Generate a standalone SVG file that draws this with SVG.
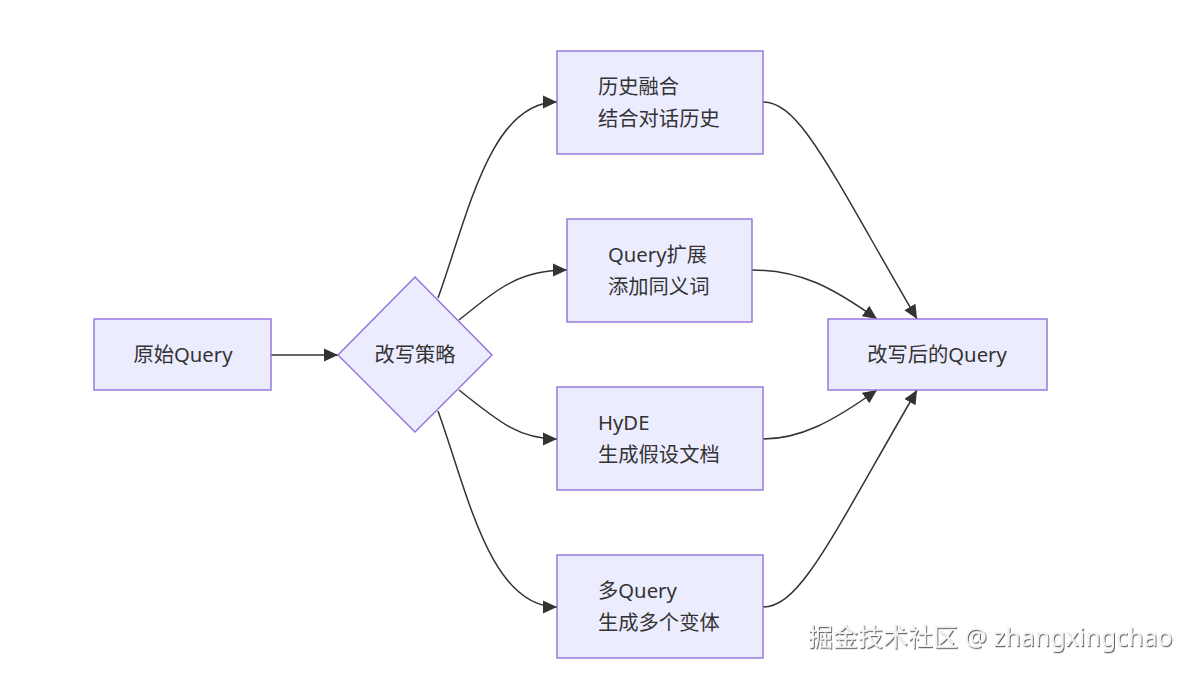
<svg xmlns="http://www.w3.org/2000/svg" width="1194" height="675" viewBox="0 0 1194 675">
<defs>
<style>
.node rect, .node polygon { fill: #ECECFF; stroke: #9370DB; stroke-width: 1.4; }
.node text { font-family: "Noto Sans", "Noto Sans CJK SC", sans-serif; font-size: 20.3px; fill: #333; }
.edge { fill: none; stroke: #333; stroke-width: 1.5; marker-end: url(#arrow); }
.wm { font-family: "Noto Sans", "Noto Sans CJK SC", sans-serif; font-size: 25px; fill: #f4f4f4; filter: url(#shadow); }
</style>
<marker id="arrow" markerUnits="userSpaceOnUse" markerWidth="14" markerHeight="14" viewBox="0 0 12 12" refX="12" refY="6" orient="auto">
<path d="M0,0.5 L12,6 L0,11.5 Z" fill="#333"/>
</marker>
<filter id="shadow" x="-5%" y="-30%" width="110%" height="160%">
<feDropShadow dx="1" dy="1.2" stdDeviation="0.6" flood-color="#555" flood-opacity="0.9"/>
</filter>
</defs>
<rect width="1194" height="675" fill="#fff"/>
<g id="connectors">
<path class="edge" d="M271,355 L338,355"/>
<path class="edge" d="M438,298 C468,215 490,102 557,102"/>
<path class="edge" d="M459,320 C500,287 520,270 567,270"/>
<path class="edge" d="M459,390 C500,423 520,439 557,439"/>
<path class="edge" d="M438,411 C468,494 490,607 557,607"/>
<path class="edge" d="M763,102 C800,102 830,170 917,319"/>
<path class="edge" d="M752,270 C800,270 832,287 877,319"/>
<path class="edge" d="M763,439 C800,439 832,422 877,390"/>
<path class="edge" d="M763,607 C800,607 830,540 917,390"/>
</g>
<g id="node-original" class="node">
<rect x="94" y="319" width="177" height="71"/>
<text x="183" y="362" text-anchor="middle">原始Query</text>
</g>
<g id="node-strategy" class="node">
<polygon points="415,277 492,355 415,432 338,355"/>
<text x="415" y="362" text-anchor="middle">改写策略</text>
</g>
<g id="node-history" class="node">
<rect x="557" y="51" width="206" height="103"/>
<text x="598" y="94">历史融合</text>
<text x="598" y="126">结合对话历史</text>
</g>
<g id="node-expand" class="node">
<rect x="567" y="219" width="185" height="103"/>
<text x="608" y="262">Query扩展</text>
<text x="608" y="294">添加同义词</text>
</g>
<g id="node-hyde" class="node">
<rect x="557" y="387" width="206" height="103"/>
<text x="598" y="430">HyDE</text>
<text x="598" y="462">生成假设文档</text>
</g>
<g id="node-multi" class="node">
<rect x="557" y="555" width="206" height="103"/>
<text x="598" y="598">多Query</text>
<text x="598" y="630">生成多个变体</text>
</g>
<g id="node-result" class="node">
<rect x="828" y="319" width="219" height="71"/>
<text x="937" y="362" text-anchor="middle">改写后的Query</text>
</g>
<text class="wm" x="808" y="646">掘金技术社区 @ zhangxingchao</text>
</svg>
